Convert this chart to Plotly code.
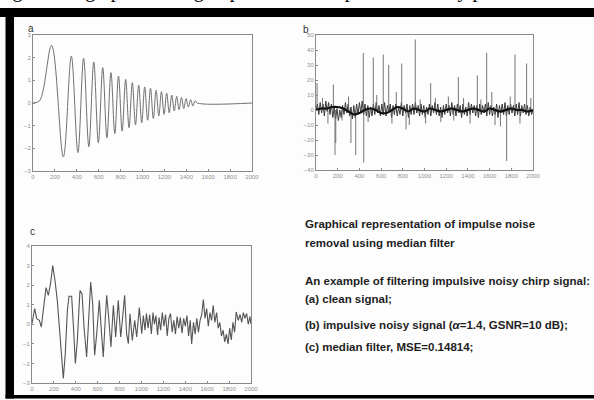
import plotly.graph_objects as go

W, H = 594, 400

# ---------------- data ----------------
# (a) clean chirp signal: extrema
a_x = [0, 60, 170, 277, 350, 410, 462, 510, 555, 597, 637, 675, 712, 747, 781, 814, 846, 877, 907, 936,
       965, 993, 1020, 1047, 1073, 1099, 1124, 1149, 1173, 1197, 1221, 1244, 1267, 1290, 1312, 1334, 1356,
       1377, 1398, 1419, 1440, 1460, 1480, 1500, 2000]
a_y = [0, 0.1, 2.54, -2.38, 2.07, -2.19, 1.97, -1.93, 1.81, -1.75, 1.56, -1.53, 1.34, -1.35, 1.19, -1.24,
       1.04, -1.09, 0.90, -0.97, 0.79, -0.87, 0.71, -0.76, 0.65, -0.68, 0.56, -0.57, 0.50, -0.50, 0.43,
       -0.43, 0.35, -0.35, 0.29, -0.29, 0.24, -0.24, 0.19, -0.18, 0.15, -0.13, 0.10, 0, 0]

# (b) impulsive noisy signal
b_spike_x = [10, 160, 175, 182, 322, 366, 436, 440, 528, 620, 670, 790, 830, 915, 1057, 1312, 1487, 1573,
             1757, 1834, 1941]
b_spike_y = [18, 17, -30, -22, -22, -30, 38, -35, 35, 37, 30, 31, -13, 47, 18, 22, 23, 38, -34, 37, 31]
b_small_x = [60, 110, 240, 300, 480, 560, 700, 740, 860, 960, 1010, 1100, 1150, 1220, 1270, 1360, 1420,
             1520, 1620, 1650, 1700, 1790, 1880, 1980]
b_small_y = [8, -9, -7, 9, -8, 10, -9, 12, -10, 7, -9, 8, -8, 9, -7, 8, -9, 7, 12, -10, -11, 9, -9, 8]
b_noise = [0, 4, -3, 5, -2, 4, -4, 6, -1, 5, -3, 4, -5, 2, -6, 1, -7, 0, -5, 3, -3, 5, -2, 4, -4, 2,
           -6, 3, -5, 4, -3, 5, -2, 6, -3, 4, -4, 3, -5, 2, -4, 4, -3, 5, -2, 3, -4, 4, -3, 5,
           -4, 3, -2, 4, -5, 3, -3, 4, -4, 2, -3, 5, -4, 3, -2, 4, -5, 3, -3, 4, -3, 5, -2, 3,
           -4, 4, -3, 3, -5, 2, -3, 4, -4, 3, -2, 5, -3, 4, -4, 2, -5, 3, -3, 4, -2, 3, -4, 5,
           -3, 3, -4, 4, -2, 3, -5, 4, -3, 2, -4, 5, -3, 4, -2, 3, -4, 3, -5, 4, -3, 3, -2, 4,
           -4, 5, -3, 3, -4, 2, -3, 4, -5, 3, -2, 4, -3, 5, -4, 3, -3, 4, -2, 3, -4, 4, -3, 5,
           -4, 3, -2, 4, -3, 3, -4, 2, -3, 0]
b_center = [0, 1, 1, 2, 2, 1, -1, -3, -2, 0, 1, 0, -2, -2, 0, 2, 1, -1, 1, 0, -1, 1, 0, -1, 0, 1,
            0, -1, 0, 1, 0, -1, 1, 0, -1, 0, 1, 0, 0, -1, 0]

# (c) median filter output
c_x = [0, 24, 43, 67, 85, 103, 128, 149, 170, 189, 210, 231, 250, 268, 286, 304, 323, 338, 362, 377,
       396, 414, 438, 457, 475, 499, 524, 536, 554, 572, 591, 615, 633, 651, 670, 682, 700, 721, 743,
       764, 788, 810, 828, 846, 864, 880, 895, 916, 938, 956, 980, 1002, 1017, 1032, 1045, 1060, 1075,
       1090, 1105, 1118, 1132, 1147, 1160, 1175, 1190, 1205, 1220, 1235, 1250, 1265, 1280, 1295, 1310,
       1325, 1340, 1355, 1370, 1385, 1400, 1415, 1430, 1445, 1458, 1475, 1490, 1505, 1520, 1535, 1550,
       1565, 1580, 1595, 1610, 1625, 1640, 1655, 1670, 1686, 1700, 1715, 1730, 1745, 1760, 1775, 1790,
       1805, 1820, 1835, 1850, 1865, 1884, 1900, 1915, 1930, 1945, 1960, 1975, 1990, 2000]
c_y = [0.03, 0.8, 0.29, 0.2, -0.14, 0.71, 1.87, 1.48, 2.1, 3.0, 2.24, 1.22, -0.14, -1.67, -2.77, -1.5,
       0.71, 1.43, 1.43, 0.03, -2.0, -0.82, 1.73, 1.56, -0.14, -1.67, 1.05, 2.16, 1.05, -1.58, -0.48,
       1.22, -0.31, -1.67, 0.37, 1.48, 0.37, -1.16, 0.97, -0.65, 1.22, -0.65, 0.37, 1.48, -0.48, -0.99,
       0.54, -0.82, 0.2, -0.65, 0.85, -0.48, 0.45, -0.3, 0.55, -0.2, 0.5, -0.5, 0.6, 0.0, 0.45, -0.55,
       0.35, -0.3, 0.6, -0.1, 0.5, -0.6, 0.3, 0.55, -0.4, 0.2, -0.5, 0.4, -0.2, 0.35, -0.45, 0.3, -0.1,
       0.45, -0.6, 0.2, -1.0, 0.1, -0.5, 0.3, -0.4, 0.2, 0.5, 1.26, 0.3, 0.8, -0.1, 0.6, 0.2, 0.97,
       0.1, 0.6, -0.2, 0.1, -0.6, -0.3, -0.9, -0.5, -1.0, -0.2, -0.8, 0.1, -0.4, 0.63, 0.2, 0.5, 0.1,
       0.6, 0.3, 0.55, 0.0, 0.4, 0.0]

x_ticks = [0, 200, 400, 600, 800, 1000, 1200, 1400, 1600, 1800, 2000]
a_yticks = [-3, -2, -1, 0, 1, 2, 3]
b_yticks = [-40, -30, -20, -10, 0, 10, 20, 30, 40, 50]
c_yticks = [-3, -2, -1, 0, 1, 2, 3, 4]

caption_lines = [
    "Graphical representation of impulse noise",
    "removal using median filter",
    "An example of filtering impulsive noisy chirp signal:",
    "(a) clean signal;",
    "(b) impulsive noisy signal (<i>α</i>=1.4, GSNR=10 dB);",
    "(c) median filter, MSE=0.14814;",
]
caption_y = [224, 243, 281, 299, 325, 347]
top_text = "ing for the graph showing impulse noise in pictures it is by pixel noise and a pro"

# ---------------- figure ----------------
def px(x):
    return x / W

def py(y):
    return 1 - y / H

fig = go.Figure()

fig.add_trace(go.Scatter(x=a_x, y=a_y, mode="lines", line=dict(color="#707070", width=1, shape="spline", smoothing=1.0),
                         xaxis="x", yaxis="y", showlegend=False))

# b: noise band
step = 2000 / (len(b_noise) - 1)
nx = [i * step for i in range(len(b_noise))]
fig.add_trace(go.Scatter(x=nx, y=b_noise, mode="lines", line=dict(color="#3a3a3a", width=1),
                         xaxis="x2", yaxis="y2", showlegend=False))
sx, sy = [], []
for xv, yv in zip(b_spike_x + b_small_x, b_spike_y + b_small_y):
    sx += [xv, xv, None]
    sy += [0, yv, None]
fig.add_trace(go.Scatter(x=sx, y=sy, mode="lines", line=dict(color="#666666", width=0.9),
                         xaxis="x2", yaxis="y2", showlegend=False))
cstep = 2000 / (len(b_center) - 1)
fig.add_trace(go.Scatter(x=[i * cstep for i in range(len(b_center))], y=b_center, mode="lines",
                         line=dict(color="#111111", width=2.2, shape="spline"),
                         xaxis="x2", yaxis="y2", showlegend=False))

fig.add_trace(go.Scatter(x=c_x, y=c_y, mode="lines", line=dict(color="#555555", width=1.1),
                         xaxis="x3", yaxis="y3", showlegend=False))

axis_common = dict(showline=True, linecolor="#8a8a8a", linewidth=1, mirror=True, ticks="inside",
                   ticklen=2, tickcolor="#8a8a8a", showgrid=False, zeroline=False, automargin=False,
                   tickfont=dict(size=6, color="#8f8f8f", family="Liberation Sans"))

boxes = {
    "": (33, 252, 35, 171),
    "2": (316, 533, 35, 170),
    "3": (32, 251, 246, 383),
}
yr = {"": (a_yticks, [-3, 3]), "2": (b_yticks, [-40, 50]), "3": (c_yticks, [-3, 4])}
layout_axes = {}
for k, (l, r, t, b) in boxes.items():
    layout_axes["xaxis" + k] = dict(domain=[px(l), px(r)], range=[0, 2000], tickvals=x_ticks,
                                    anchor="y" + k, **axis_common)
    layout_axes["yaxis" + k] = dict(domain=[py(b), py(t)], range=yr[k][1], tickvals=yr[k][0],
                                    anchor="x" + k, **axis_common)

fig.update_layout(width=W, height=H, margin=dict(l=0, r=0, t=0, b=0),
                  paper_bgcolor="#fdfdfd", plot_bgcolor="#fdfdfd", **layout_axes)

shapes = [
    dict(type="rect", xref="paper", yref="paper", x0=0, x1=1, y0=py(17), y1=py(8), fillcolor="black", line_width=0),
    dict(type="rect", xref="paper", yref="paper", x0=px(5.5), x1=px(14), y0=py(398.5), y1=py(8), fillcolor="black", line_width=0),
    dict(type="rect", xref="paper", yref="paper", x0=px(5.5), x1=1, y0=py(398.5), y1=py(395), fillcolor="black", line_width=0),
]
fig.update_layout(shapes=shapes)

ann = []
for lbl, (x0, y0) in zip(["a", "b", "c"], [(27, 22), (306, 23), (29, 232)]):
    ann.append(dict(text=lbl, x=px(x0), y=py(y0), xref="paper", yref="paper", showarrow=False, borderpad=0,
                    font=dict(size=10, color="#333", family="Liberation Sans")))
for t, yv in zip(caption_lines, caption_y):
    ann.append(dict(text=t, x=px(303), y=py(yv), xref="paper", yref="paper", xanchor="left", yanchor="middle",
                    showarrow=False, font=dict(size=11.5, color="#1e1e1e", family="Liberation Sans", weight="bold")))
ann.append(dict(text=top_text, x=px(-5), y=py(4.5), xref="paper", yref="paper", xanchor="left", yanchor="bottom",
                showarrow=False, font=dict(size=20, color="black", family="Liberation Serif")))
fig.update_layout(annotations=ann)

fig.write_html("out.html", config={"displayModeBar": False},
               post_script="document.body.style.margin='0';document.body.style.overflow='hidden';")
